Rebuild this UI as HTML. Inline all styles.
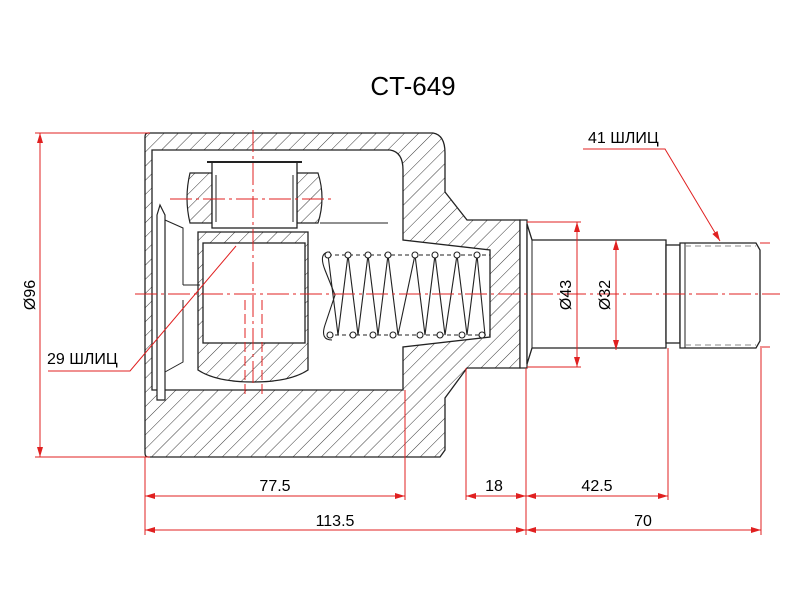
<!DOCTYPE html>
<html><head><style>
html,body{margin:0;padding:0;background:#fff;width:800px;height:600px;overflow:hidden}
svg text{font-family:"Liberation Sans",sans-serif}
</style></head><body>
<svg width="800" height="600" viewBox="0 0 800 600" xmlns="http://www.w3.org/2000/svg">
<defs>
<pattern id="h" patternUnits="userSpaceOnUse" width="10" height="10" patternTransform="rotate(45)">
<line x1="0" y1="0" x2="0" y2="10" stroke="#222" stroke-width="0.9"/>
</pattern>
<marker id="a" markerWidth="10" markerHeight="6" refX="10" refY="3" orient="auto-start-reverse" markerUnits="userSpaceOnUse">
<path d="M0,0 L10,3 L0,6 z" fill="#e02020"/>
</marker>
</defs>
<text x="413" y="95" font-size="26" text-anchor="middle" fill="#000">CT-649</text>

<path fill="url(#h)" stroke="#222" stroke-width="1.3" fill-rule="evenodd" d="
M148,133 L433,133 Q445,135 445,153 L445,192 L467,220 L520,220 L520,368 L467,368 L445,398 L445,450 L440,457 L148,457 Q145,457 145,453 L145,137 Q145,133 148,133 Z
M152,150 L390,150 Q403,152 403,170 L403,240 L490,250 L490,337 L403,347 L403,390 L152,390 Z"/>
<rect x="520" y="220" width="7" height="148" fill="#fff" stroke="#222" stroke-width="1.2"/>
<path d="M157,215 L160,205 L165,215 L165,400 L157,400 Z" fill="#fff" stroke="#222" stroke-width="1.2"/>
<path d="M165,220 L183,228 L183,285 M165,372 L183,362 L183,300 M183,285 L200,285" fill="none" stroke="#222" stroke-width="1"/>
<path d="M190,173 L212,173 L212,223 L190,223 Q184,198 190,173Z" fill="url(#h)" stroke="#222" stroke-width="1.2"/>
<path d="M297,173 L318,173 Q326,198 318,223 L297,223Z" fill="url(#h)" stroke="#222" stroke-width="1.2"/>
<rect x="212" y="162" width="85" height="66" fill="#fff" stroke="#222" stroke-width="1.3"/>
<line x1="207" y1="162" x2="302" y2="162" stroke="#222" stroke-width="2"/>
<line x1="216" y1="175" x2="216" y2="222" stroke="#222"/>
<line x1="293" y1="175" x2="293" y2="222" stroke="#222"/>
<line x1="320" y1="223" x2="388" y2="223" stroke="#222" stroke-width="1"/>
<path d="M198,232 L308,232 L308,370 Q290,382 253,382 Q216,382 198,370 Z" fill="url(#h)" stroke="#222" stroke-width="1.3"/>
<rect x="203" y="243" width="102" height="100" fill="#fff" stroke="#222" stroke-width="1.3"/>
<g fill="none" stroke="#222" stroke-width="1.1">
<path d="M328,255 L338,335 L348,255 L358,335 L368,255 L378,335 L388,255 L398,335 L415,255 L425,335 L435,255 L445,335 L457,255 L467,335 L477,255 L485,335"/>
<path d="M330,252 Q318,252 325,270 L335,295 L325,325 Q320,340 332,340"/>
<line x1="328" y1="255" x2="490" y2="255" stroke-dasharray="4,3"/>
<line x1="328" y1="335" x2="490" y2="335" stroke-dasharray="4,3"/>
<g fill="#fff">
<circle cx="328" cy="255" r="3"/><circle cx="348" cy="255" r="3"/><circle cx="368" cy="255" r="3"/><circle cx="388" cy="255" r="3"/><circle cx="415" cy="255" r="3"/><circle cx="435" cy="255" r="3"/><circle cx="457" cy="255" r="3"/><circle cx="477" cy="255" r="3"/>
<circle cx="330" cy="335" r="3"/><circle cx="353" cy="335" r="3"/><circle cx="373" cy="335" r="3"/><circle cx="393" cy="335" r="3"/><circle cx="420" cy="335" r="3"/><circle cx="440" cy="335" r="3"/><circle cx="462" cy="335" r="3"/><circle cx="482" cy="335" r="3"/>
</g></g>
<g fill="#fff" stroke="#222" stroke-width="1.3">
<path d="M527,224 L532,240 L666,240 L666,348 L532,348 L527,364Z"/>
<rect x="666" y="245" width="14" height="98"/>
<path d="M680,243 L756,243 L760,250 L760,341 L756,348 L680,348Z"/>
</g>
<line x1="532" y1="240" x2="532" y2="348" stroke="#222"/>
<line x1="685" y1="243" x2="685" y2="348" stroke="#222"/>
<line x1="685" y1="246" x2="756" y2="246" stroke="#888" stroke-dasharray="6,4"/>
<line x1="685" y1="345" x2="756" y2="345" stroke="#888" stroke-dasharray="6,4"/>

<g stroke="#e02020" stroke-width="1" fill="none">
<line x1="135" y1="294" x2="780" y2="294" stroke-dasharray="22,4,3,4"/>
<line x1="253" y1="130" x2="253" y2="385" stroke-dasharray="22,4,3,4"/>
<line x1="170" y1="199" x2="335" y2="199" stroke-dasharray="22,4,3,4"/>
<line x1="245" y1="300" x2="245" y2="395" stroke-dasharray="10,4"/>
<line x1="262" y1="300" x2="262" y2="395" stroke-dasharray="10,4"/>
<line x1="35" y1="133" x2="150" y2="133"/><line x1="35" y1="457" x2="150" y2="457"/>
<line x1="40" y1="133" x2="40" y2="457" marker-start="url(#a)" marker-end="url(#a)"/>
<polyline points="48,371 130,371 236,246"/>
<polyline points="583,149 665,149 720,241" marker-end="url(#a)"/>
<line x1="145" y1="457" x2="145" y2="535"/>
<line x1="405" y1="390" x2="405" y2="500"/>
<line x1="466" y1="368" x2="466" y2="500"/>
<line x1="526" y1="368" x2="526" y2="535"/>
<line x1="668" y1="348" x2="668" y2="500"/>
<line x1="761" y1="348" x2="761" y2="535"/>
<line x1="145" y1="496" x2="405" y2="496" marker-start="url(#a)" marker-end="url(#a)"/>
<line x1="466" y1="496" x2="526" y2="496" marker-start="url(#a)" marker-end="url(#a)"/>
<line x1="526" y1="496" x2="668" y2="496" marker-start="url(#a)" marker-end="url(#a)"/>
<line x1="145" y1="530" x2="526" y2="530" marker-start="url(#a)" marker-end="url(#a)"/>
<line x1="526" y1="530" x2="761" y2="530" marker-start="url(#a)" marker-end="url(#a)"/>
<line x1="527" y1="222" x2="581" y2="222"/><line x1="527" y1="367" x2="581" y2="367"/>
<line x1="577" y1="222" x2="577" y2="367" marker-start="url(#a)" marker-end="url(#a)"/>
<line x1="616" y1="240" x2="616" y2="350" marker-start="url(#a)" marker-end="url(#a)"/>
<line x1="760" y1="243" x2="770" y2="243"/><line x1="760" y1="347" x2="770" y2="347"/>
</g>
<g font-size="16" fill="#000">
<text x="35" y="295" text-anchor="middle" transform="rotate(-90 35 295)">Ø96</text>
<text x="571" y="295" text-anchor="middle" transform="rotate(-90 571 295)">Ø43</text>
<text x="610" y="295" text-anchor="middle" transform="rotate(-90 610 295)">Ø32</text>
<text x="47" y="364">29 ШЛИЦ</text>
<text x="588" y="143">41 ШЛИЦ</text>
<text x="275" y="491" text-anchor="middle">77.5</text>
<text x="494" y="491" text-anchor="middle">18</text>
<text x="597" y="491" text-anchor="middle">42.5</text>
<text x="335" y="526" text-anchor="middle">113.5</text>
<text x="643" y="526" text-anchor="middle">70</text>
</g>
</svg>
</body></html>
